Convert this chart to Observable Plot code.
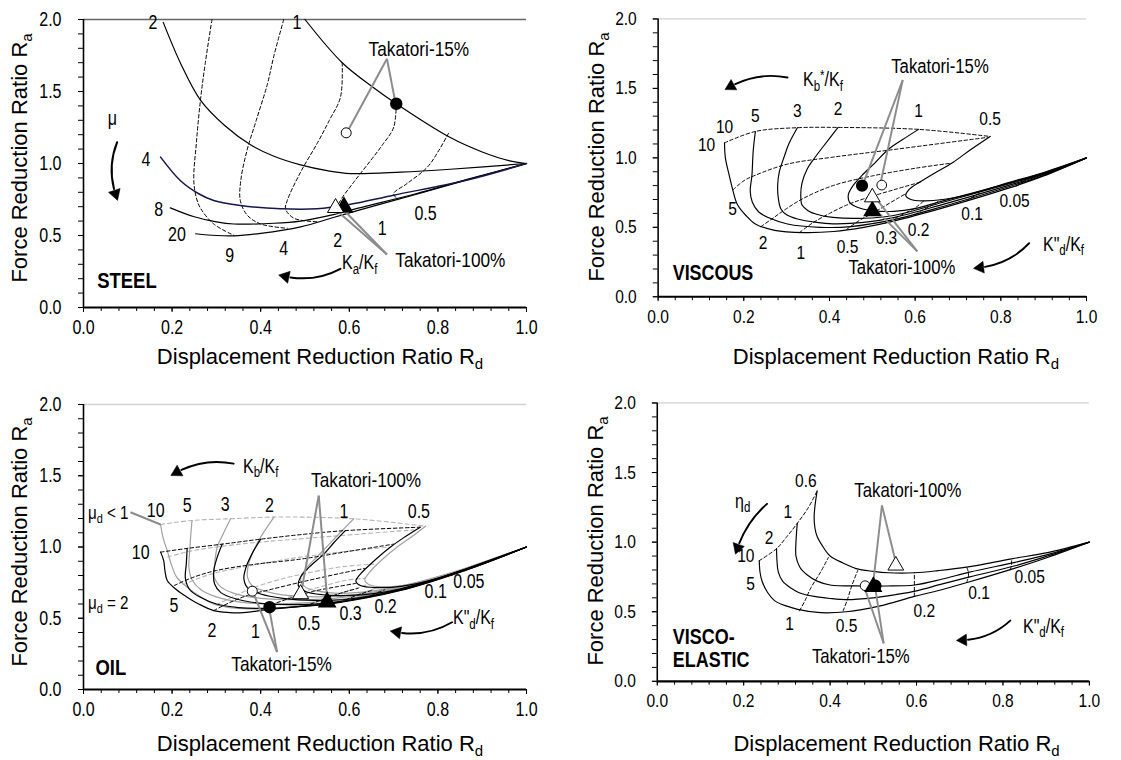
<!DOCTYPE html>
<html><head><meta charset="utf-8">
<script src="https://cdn.jsdelivr.net/npm/d3@7"></script>
<script src="https://cdn.jsdelivr.net/npm/@observablehq/plot@0.6"></script>
<style>
body{margin:0;background:#fff;}
#root{position:relative;width:1121px;height:760px;overflow:hidden;background:#fff;}
.pn{position:absolute;}
.tt{position:absolute;font-family:'Liberation Sans',Arial,sans-serif;font-size:22px;white-space:nowrap;color:#000;line-height:1;}
.tt .sb{font-size:15px;position:relative;top:5px;}
.rl{position:absolute;font-family:'Liberation Sans',Arial,sans-serif;white-space:pre;color:#000;line-height:1;transform-origin:0 50%;}
.rl .sub{font-size:0.72em;position:relative;top:0.32em;}
.rl .sup{font-size:0.72em;position:relative;top:-0.42em;}
</style></head><body><div id="root"></div>
<script>
// ---------- tick values ----------
const xMajor = [0, 0.2, 0.4, 0.6, 0.8, 1.0];
const xMinor = [0,0.04,0.08,0.12,0.16,0.2,0.24,0.28,0.32,0.36,0.4,0.44,0.48,0.52,0.56,0.6,0.64,0.68,0.72,0.76,0.8,0.84,0.88,0.92,0.96,1.0];
const yMajor = [0, 0.5, 1.0, 1.5, 2.0];
const yMinor = [0,0.1,0.2,0.3,0.4,0.5,0.6,0.7,0.8,0.9,1.0,1.1,1.2,1.3,1.4,1.5,1.6,1.7,1.8,1.9,2.0];

// ---------- STEEL ----------
const steelMu1 = [[0.50,2.0],[0.584,1.70],[0.655,1.526],[0.706,1.415],[0.828,1.18],[0.90,1.08],[0.96,1.02],[1,1]];
const steelMu2 = [[0.18,1.98],[0.22,1.69],[0.264,1.44],[0.32,1.26],[0.377,1.13],[0.43,1.05],[0.49,0.99],[0.55,0.95],[0.603,0.93],[0.716,0.94],[0.828,0.96],[1,1]];
const steelMu4 = [[0.174,1.044],[0.219,0.88],[0.26,0.79],[0.294,0.743],[0.354,0.708],[0.445,0.685],[0.527,0.685],[0.60,0.715],[0.70,0.78],[0.866,0.885],[1,1]];
const steelMu8 = [[0.196,0.692],[0.25,0.63],[0.30,0.595],[0.339,0.58],[0.43,0.585],[0.49,0.60],[0.564,0.645],[0.62,0.69],[0.75,0.79],[0.87,0.893],[1,1]];
const steelMu20 = [[0.253,0.512],[0.30,0.50],[0.339,0.498],[0.40,0.515],[0.49,0.56],[0.564,0.625],[0.62,0.675],[0.75,0.785],[0.87,0.89],[1,1]];
const steelKa9 = [[0.29,2.0],[0.275,1.7],[0.264,1.44],[0.255,1.15],[0.249,0.88],[0.255,0.76],[0.264,0.69],[0.294,0.58],[0.34,0.50]];
const steelKa4 = [[0.452,2.0],[0.43,1.75],[0.415,1.55],[0.39,1.3],[0.369,1.09],[0.355,0.88],[0.354,0.743],[0.37,0.64],[0.40,0.58],[0.46,0.55]];
const steelKa2 = [[0.584,1.70],[0.58,1.46],[0.555,1.30],[0.527,1.137],[0.49,0.94],[0.46,0.743],[0.456,0.685],[0.475,0.62],[0.53,0.595]];
const steelKa1 = [[0.706,1.415],[0.70,1.25],[0.675,1.13],[0.648,1.02],[0.61,0.87],[0.58,0.743],[0.575,0.70],[0.60,0.665]];
const steelKa05 = [[0.824,1.21],[0.80,1.08],[0.776,0.974],[0.73,0.86],[0.70,0.79],[0.71,0.75]];
const steelLabels = [["2",0.157,1.975],["1",0.482,1.98],["8",0.17,0.678],["20",0.211,0.507],["9",0.33,0.36],["4",0.452,0.41],["2",0.574,0.465],["1",0.674,0.546],["0.5",0.772,0.65]];
const steelOpen = [[0.593,1.213]], steelFilled = [[0.706,1.415]];
const steelOpenTri = [[0.569,0.692]], steelFilledTri = [[0.588,0.697]];

// ---------- VISCOUS ----------
const visKb10 = [[0.155,1.108],[0.157,1.0],[0.166,0.874],[0.175,0.76],[0.185,0.664],[0.205,0.585],[0.227,0.524],[0.272,0.478],[0.34,0.462],[0.41,0.47],[0.48,0.50],[0.55,0.545],[0.665,0.64],[0.816,0.78],[0.90,0.87],[1,1]];
const visKb5 = [[0.227,1.19],[0.222,1.05],[0.219,0.874],[0.215,0.76],[0.22,0.68],[0.235,0.61],[0.257,0.57],[0.302,0.524],[0.378,0.50],[0.45,0.505],[0.55,0.555],[0.665,0.65],[0.816,0.79],[0.90,0.875],[1,1]];
const visKb3 = [[0.325,1.217],[0.305,1.1],[0.295,1.014],[0.283,0.9],[0.279,0.8],[0.281,0.70],[0.287,0.63],[0.30,0.59],[0.325,0.56],[0.37,0.535],[0.408,0.525],[0.48,0.535],[0.55,0.57],[0.665,0.665],[0.816,0.80],[0.90,0.88],[1,1]];
const visKb2 = [[0.42,1.219],[0.385,1.08],[0.363,0.99],[0.348,0.92],[0.336,0.82],[0.333,0.734],[0.336,0.66],[0.35,0.62],[0.37,0.594],[0.408,0.571],[0.48,0.565],[0.55,0.585],[0.665,0.68],[0.816,0.81],[0.90,0.885],[1,1]];
const visKb1 = [[0.608,1.205],[0.57,1.13],[0.537,1.06],[0.505,0.96],[0.476,0.874],[0.455,0.80],[0.444,0.734],[0.447,0.68],[0.465,0.645],[0.50,0.62],[0.55,0.615],[0.60,0.635],[0.665,0.69],[0.816,0.815],[0.90,0.89],[1,1]];
const visKb05 = [[0.775,1.154],[0.73,1.06],[0.688,0.967],[0.645,0.89],[0.612,0.828],[0.585,0.77],[0.578,0.73],[0.59,0.70],[0.62,0.69],[0.665,0.70],[0.73,0.74],[0.816,0.82],[0.90,0.895],[1,1]];
const visKd10 = [[0.155,1.108],[0.227,1.19],[0.325,1.217],[0.42,1.219],[0.608,1.205],[0.775,1.154]];
const visKd5 = [[0.175,0.77],[0.20,0.835],[0.227,0.875],[0.302,0.955],[0.408,1.005],[0.55,1.06],[0.77,1.148]];
const visKd2 = [[0.24,0.505],[0.27,0.57],[0.30,0.635],[0.34,0.71],[0.408,0.80],[0.50,0.87],[0.60,0.925],[0.68,0.96]];
const visKd1 = [[0.33,0.462],[0.36,0.53],[0.40,0.60],[0.44,0.66],[0.48,0.705],[0.55,0.77],[0.612,0.825]];
const visKd05 = [[0.44,0.485],[0.47,0.55],[0.50,0.60],[0.53,0.655],[0.56,0.71],[0.58,0.745]];
const visKd03 = [[0.53,0.53],[0.55,0.56],[0.575,0.60],[0.60,0.64],[0.62,0.69]];
const visKd02 = [[0.60,0.59],[0.615,0.62],[0.64,0.66],[0.66,0.70]];
const visKd01 = [[0.72,0.69],[0.73,0.71],[0.75,0.745]];
const visKd005 = [[0.835,0.795],[0.845,0.81],[0.855,0.835]];
const visLabels = [["10",0.155,1.224],["5",0.227,1.305],["3",0.325,1.34],["2",0.42,1.352],["1",0.608,1.34],["0.5",0.775,1.28],["10",0.113,1.096],["5",0.174,0.63],["2",0.245,0.385],["1",0.333,0.315],["0.5",0.442,0.36],["0.3",0.533,0.42],["0.2",0.608,0.478],["0.1",0.733,0.594],["0.05",0.832,0.688]];
const visOpen = [[0.522,0.804]], visFilled = [[0.476,0.80]];
const visOpenTri = [[0.50,0.716]], visFilledTri = [[0.50,0.618]];

// ---------- OIL ----------
const oilG10 = [[0.174,1.158],[0.18,1.06],[0.189,0.975],[0.198,0.88],[0.21,0.79],[0.234,0.718],[0.26,0.66],[0.294,0.60],[0.33,0.575],[0.37,0.566],[0.45,0.575],[0.565,0.615],[0.716,0.705],[0.87,0.85],[1,1]];
const oilG5 = [[0.245,1.186],[0.242,1.08],[0.24,0.98],[0.238,0.858],[0.245,0.77],[0.265,0.70],[0.30,0.65],[0.35,0.615],[0.43,0.60],[0.565,0.625],[0.716,0.71],[0.87,0.852],[1,1]];
const oilG3 = [[0.332,1.198],[0.315,1.09],[0.302,1.0],[0.296,0.88],[0.295,0.79],[0.31,0.72],[0.34,0.675],[0.40,0.64],[0.48,0.63],[0.565,0.64],[0.716,0.715],[0.87,0.854],[1,1]];
const oilG2 = [[0.43,1.21],[0.40,1.07],[0.384,0.975],[0.372,0.87],[0.37,0.79],[0.38,0.73],[0.41,0.69],[0.46,0.66],[0.53,0.65],[0.60,0.66],[0.716,0.72],[0.87,0.856],[1,1]];
const oilG1 = [[0.61,1.198],[0.57,1.07],[0.527,0.93],[0.50,0.84],[0.49,0.77],[0.50,0.72],[0.53,0.69],[0.58,0.675],[0.65,0.69],[0.716,0.725],[0.87,0.858],[1,1]];
const oilG05 = [[0.772,1.146],[0.74,1.07],[0.708,1.0],[0.67,0.90],[0.645,0.82],[0.635,0.77],[0.645,0.735],[0.68,0.72],[0.73,0.735],[0.80,0.785],[0.87,0.86],[1,1]];
const oilB10 = [[0.174,0.964],[0.181,0.905],[0.184,0.83],[0.189,0.765],[0.21,0.70],[0.234,0.648],[0.26,0.60],[0.294,0.554],[0.33,0.54],[0.354,0.538],[0.415,0.56],[0.48,0.58],[0.565,0.605],[0.716,0.695],[0.87,0.845],[1,1]];
const oilB5 = [[0.234,0.99],[0.232,0.88],[0.23,0.78],[0.24,0.70],[0.265,0.645],[0.30,0.60],[0.35,0.575],[0.42,0.57],[0.50,0.585],[0.565,0.608],[0.716,0.698],[0.87,0.846],[1,1]];
const oilB3 = [[0.313,1.02],[0.302,0.93],[0.294,0.83],[0.296,0.74],[0.31,0.68],[0.345,0.635],[0.40,0.605],[0.47,0.595],[0.565,0.612],[0.716,0.70],[0.87,0.848],[1,1]];
const oilB2 = [[0.40,1.055],[0.38,0.95],[0.367,0.858],[0.362,0.78],[0.37,0.715],[0.40,0.67],[0.45,0.64],[0.52,0.625],[0.60,0.635],[0.716,0.703],[0.87,0.85],[1,1]];
const oilB1 = [[0.591,1.115],[0.565,1.03],[0.543,0.952],[0.51,0.86],[0.49,0.79],[0.485,0.73],[0.50,0.69],[0.54,0.665],[0.60,0.66],[0.66,0.675],[0.716,0.706],[0.87,0.852],[1,1]];
const oilB05 = [[0.76,1.139],[0.725,1.07],[0.693,1.0],[0.655,0.90],[0.625,0.81],[0.615,0.76],[0.625,0.73],[0.66,0.715],[0.72,0.725],[0.80,0.78],[0.87,0.854],[1,1]];
const oilGd10 = [[0.174,1.158],[0.245,1.186],[0.332,1.198],[0.43,1.21],[0.61,1.198],[0.772,1.146]];
const oilGd5 = [[0.19,0.93],[0.24,0.97],[0.30,1.0],[0.384,1.03],[0.50,1.06],[0.62,1.09],[0.745,1.12]];
const oilGd2 = [[0.225,0.735],[0.26,0.78],[0.30,0.82],[0.37,0.865],[0.47,0.92],[0.58,0.965],[0.69,1.0]];
const oilGd1 = [[0.30,0.595],[0.34,0.655],[0.38,0.71],[0.44,0.77],[0.51,0.82],[0.58,0.86],[0.655,0.88]];
const oilGd05 = [[0.42,0.585],[0.45,0.63],[0.49,0.68],[0.54,0.725],[0.59,0.765],[0.635,0.78]];
const oilGd03 = [[0.54,0.62],[0.56,0.65],[0.59,0.685],[0.64,0.735]];
const oilGd02 = [[0.62,0.665],[0.64,0.69],[0.67,0.72]];
const oilGd01 = [[0.73,0.72],[0.74,0.73],[0.75,0.745]];
const oilGd005 = [[0.86,0.83],[0.865,0.84],[0.875,0.855]];
const oilBd10 = [[0.174,0.964],[0.234,0.99],[0.313,1.02],[0.40,1.055],[0.50,1.09],[0.591,1.115],[0.76,1.139]];
const oilBd5 = [[0.205,0.73],[0.25,0.79],[0.30,0.835],[0.377,0.875],[0.49,0.915],[0.60,0.97],[0.70,1.02]];
const oilBd2 = [[0.294,0.554],[0.33,0.61],[0.37,0.66],[0.42,0.70],[0.50,0.76],[0.58,0.815],[0.635,0.85]];
const oilBd1 = [[0.40,0.56],[0.43,0.60],[0.47,0.645],[0.52,0.69],[0.57,0.72],[0.615,0.745]];
const oilBd05 = [[0.50,0.585],[0.53,0.62],[0.56,0.655],[0.59,0.685],[0.62,0.71]];
const oilBd03 = [[0.58,0.61],[0.60,0.64],[0.625,0.67],[0.65,0.695]];
const oilBd02 = [[0.64,0.645],[0.66,0.675],[0.68,0.70]];
const oilBd01 = [[0.745,0.72],[0.755,0.735],[0.77,0.75]];
const oilBd005 = [[0.83,0.80],[0.84,0.815],[0.85,0.83]];
const oilLabels = [["10",0.163,1.256],["5",0.234,1.29],["3",0.32,1.30],["2",0.42,1.29],["1",0.588,1.244],["0.5",0.757,1.25],["10",0.129,0.957],["5",0.204,0.59],["2",0.29,0.414],["1",0.388,0.402],["0.5",0.509,0.46],["0.3",0.603,0.53],["0.2",0.682,0.578],["0.1",0.795,0.683],["0.05",0.87,0.753]];
const oilOpen = [[0.381,0.69]], oilFilled = [[0.42,0.578]];
const oilOpenTri = [[0.49,0.67]], oilFilledTri = [[0.55,0.613]];

// ---------- VISCO-ELASTIC ----------
const veEta06 = [[0.37,1.368],[0.365,1.26],[0.363,1.18],[0.365,1.1],[0.37,1.04],[0.385,0.96],[0.40,0.90],[0.43,0.85],[0.46,0.81],[0.50,0.79],[0.535,0.78],[0.595,0.78],[0.65,0.795],[0.716,0.82],[0.82,0.88],[0.903,0.925],[1,1]];
const veEta1 = [[0.324,1.135],[0.321,1.0],[0.321,0.90],[0.33,0.82],[0.348,0.762],[0.37,0.72],[0.40,0.692],[0.475,0.685],[0.53,0.685],[0.595,0.692],[0.66,0.735],[0.723,0.785],[0.828,0.855],[0.903,0.91],[1,1]];
const veEta2 = [[0.276,0.953],[0.277,0.87],[0.28,0.786],[0.29,0.72],[0.31,0.669],[0.33,0.635],[0.363,0.61],[0.40,0.595],[0.438,0.587],[0.50,0.60],[0.55,0.622],[0.60,0.65],[0.66,0.70],[0.723,0.75],[0.828,0.83],[0.903,0.9],[1,1]];
const veEta10 = [[0.236,0.867],[0.238,0.78],[0.243,0.715],[0.255,0.64],[0.273,0.576],[0.30,0.54],[0.325,0.517],[0.378,0.493],[0.438,0.50],[0.513,0.54],[0.595,0.61],[0.66,0.66],[0.723,0.715],[0.828,0.813],[0.903,0.89],[1,1]];
const veEdge = [[0.236,0.867],[0.276,0.953],[0.30,1.04],[0.324,1.135],[0.35,1.25],[0.37,1.368]];
const veKd1 = [[0.329,0.506],[0.342,0.58],[0.355,0.669],[0.378,0.785],[0.396,0.89]];
const veKd05 = [[0.43,0.505],[0.44,0.587],[0.45,0.685],[0.464,0.797]];
const veKd02 = [[0.595,0.61],[0.595,0.65],[0.595,0.692],[0.595,0.78]];
const veKd01 = [[0.716,0.71],[0.72,0.75],[0.72,0.785],[0.716,0.82]];
const veKd005 = [[0.817,0.80],[0.82,0.84],[0.82,0.88]];
const veLabels = [["0.6",0.344,1.438],["1",0.302,1.217],["2",0.259,1.03],["10",0.205,0.90],["5",0.216,0.697],["1",0.306,0.413],["0.5",0.438,0.40],["0.2",0.618,0.506],["0.1",0.745,0.634],["0.05",0.862,0.75]];
const veOpen = [[0.481,0.687]], veFilled = [[0.505,0.687]];
const veOpenTri = [[0.552,0.832]], veFilledTri = [[0.50,0.68]];

// ---------- rendering ----------
const W = 560, H = 380, MT = 19;
const FN = "'Liberation Sans',Arial,sans-serif";
const SQ = 0.82; // condensed text factor (Arial Narrow look)
const root = document.getElementById("root");

function rows(list) { return list.flatMap((arr, i) => arr.map(([x, y]) => ({id: i, x, y}))); }

function lineMark(list, stroke, dash, width) {
  return Plot.line(rows(list), {x: "x", y: "y", z: "id", stroke, strokeWidth: width, strokeDasharray: dash, curve: "catmull-rom", fill: "none"});
}

function squeeze(el) {
  const L = el.getComputedTextLength();
  if (L > 0) { el.setAttribute("textLength", L * SQ); el.setAttribute("lengthAdjust", "spacingAndGlyphs"); }
}

function narrow(svg) {
  svg.querySelectorAll("text").forEach(t => {
    const ts = t.querySelectorAll("tspan");
    if (ts.length) ts.forEach(squeeze); else squeeze(t);
  });
}

// label with sub/superscripts, placed through the plot's scales
function rich(p, left, top, x, y, parts, size) {
  const el = document.createElement("div");
  el.className = "rl";
  el.style.fontSize = size + "px";
  el.style.left = (left + p.scale("x").apply(x)) + "px";
  el.style.top = (top + p.scale("y").apply(y)) + "px";
  el.style.transform = `translateY(-50%) scaleX(${SQ})`;
  for (const [s, k] of parts) {
    const sp = document.createElement("span");
    if (k) sp.className = k;
    sp.textContent = s;
    el.appendChild(sp);
  }
  root.appendChild(el);
}

function panel(cfg) {
  const {left, top, mL, mR, mB, topColor, titleOff} = cfg;
  const plotW = W - mL - mR, plotH = H - MT - mB;
  const marks = [
    Plot.ruleY([2], {stroke: topColor, strokeWidth: 1.3}),
    Plot.axisX({ticks: xMinor, tickSize: 4, tickFormat: () => "", label: null}),
    Plot.axisX({ticks: xMajor, tickSize: 5, tickPadding: 8, tickFormat: d => d.toFixed(1), label: null, fontSize: 19.5, fontFamily: FN}),
    Plot.axisY({ticks: yMinor, tickSize: 5, tickFormat: () => "", label: null}),
    Plot.axisY({ticks: yMajor, tickSize: 5, tickPadding: 17, tickFormat: d => d.toFixed(1), label: null, fontSize: 19.5, fontFamily: FN}),
    Plot.ruleX([0], {strokeWidth: 1.6}),
    Plot.ruleY([0], {strokeWidth: 2.2})
  ];
  if (cfg.grayDashed) marks.push(lineMark(cfg.grayDashed, "#b4b4b4", "4,3", 1.1));
  if (cfg.graySolid) marks.push(lineMark(cfg.graySolid, "#a0a0a0", null, 1.2));
  if (cfg.dashed) marks.push(lineMark(cfg.dashed, "#000", "3.5,2.5", 1));
  if (cfg.solid) marks.push(lineMark(cfg.solid, "#000", null, 1.2));
  if (cfg.navy) marks.push(lineMark(cfg.navy, "#16164a", null, 1.5));
  marks.push(Plot.link(cfg.leaders, {x1: d => d[0], y1: d => d[1], x2: d => d[2], y2: d => d[3], stroke: "#8c8c8c", strokeWidth: 2}));
  for (const a of cfg.arrows) {
    const [x1, y1, x2, y2, bend] = a;
    // direction of the arc where it meets its end, for the filled head
    const dxs = (x2 - x1) * plotW, dys = -(y2 - y1) * plotH / 2;
    const endDeg = Math.atan2(dys, dxs) * 180 / Math.PI + bend;
    marks.push(Plot.arrow([a], {x1: d => d[0], y1: d => d[1], x2: d => d[2], y2: d => d[3], bend, stroke: "#000", strokeWidth: 2, headLength: 0, insetEnd: 5}));
    marks.push(Plot.dot([a], {x: d => d[2], y: d => d[3], r: 4.5, symbol: "triangle", fill: "#000", stroke: "#000", strokeWidth: 0.5, rotate: endDeg + 90}));
  }
  marks.push(Plot.dot(cfg.filled, {x: d => d[0], y: d => d[1], r: 5.5, fill: "#000", stroke: "#000"}));
  marks.push(Plot.dot(cfg.open, {x: d => d[0], y: d => d[1], r: 5, fill: "#fff", stroke: "#000", strokeWidth: 1}));
  marks.push(Plot.dot(cfg.filledTri, {x: d => d[0], y: d => d[1], r: 6, symbol: "triangle", fill: "#000", stroke: "#000"}));
  marks.push(Plot.dot(cfg.openTri, {x: d => d[0], y: d => d[1], r: 6, symbol: "triangle", fill: "#fff", stroke: "#000", strokeWidth: 1}));
  marks.push(Plot.text(cfg.labels, {x: d => d[1], y: d => d[2], text: d => d[0], fontSize: 19.5, fontFamily: FN, fill: "#000", fontWeight: d => d[3] || "normal"}));
  marks.push(Plot.text(cfg.notes, {x: d => d[1], y: d => d[2], text: d => d[0], fontSize: 21, fontFamily: FN, fill: "#000"}));
  marks.push(Plot.text(cfg.names, {x: d => d[1], y: d => d[2], text: d => d[0], fontSize: 22.5, fontWeight: "bold", fontFamily: FN, textAnchor: "start", lineHeight: 1.05, fill: "#000"}));
  const p = Plot.plot({
    width: W, height: H, marginLeft: mL, marginRight: mR, marginTop: MT, marginBottom: mB,
    x: {domain: [0, 1]}, y: {domain: [0, 2]},
    style: {background: "transparent", color: "#000", fontFamily: FN, overflow: "visible"},
    marks
  });
  const div = document.createElement("div");
  div.className = "pn"; div.style.left = left + "px"; div.style.top = top + "px";
  div.appendChild(p); root.appendChild(div);
  narrow(p);
  for (const r of cfg.rich) rich(p, left, top, r[0], r[1], r[2], r[3]);
  const xt = document.createElement("div");
  xt.className = "tt";
  xt.innerHTML = 'Displacement Reduction Ratio R<span class="sb">d</span>';
  xt.style.left = (left + mL + 0.535 * plotW) + "px";
  xt.style.top = (top + H - mB + titleOff) + "px";
  xt.style.transform = "translate(-50%,-50%)";
  root.appendChild(xt);
  const yt = document.createElement("div");
  yt.className = "tt";
  yt.innerHTML = 'Force Reduction Ratio R<span class="sb">a</span>';
  yt.style.left = (left + 20) + "px";
  yt.style.top = (top + MT + plotH / 2 - 5) + "px";
  yt.style.transform = "translate(-50%,-50%) rotate(-90deg)";
  root.appendChild(yt);
}

// STEEL
panel({
  left: 0, top: 0, mL: 83, mR: 34, mB: 73, topColor: "#666", titleOff: 50,
  solid: [steelMu1, steelMu2, steelMu8, steelMu20],
  navy: [steelMu4],
  dashed: [steelKa9, steelKa4, steelKa2, steelKa1, steelKa05],
  leaders: [[0.685,1.727,0.598,1.235],[0.685,1.727,0.703,1.44],[0.685,0.368,0.572,0.672],[0.685,0.368,0.588,0.675]],
  arrows: [[0.076,1.148,0.072,0.79,-20],[0.58,0.269,0.456,0.215,20]],
  open: steelOpen, filled: steelFilled, openTri: steelOpenTri, filledTri: steelFilledTri,
  labels: steelLabels.concat([["4",0.141,1.025,"bold"],["μ",0.065,1.31]]),
  notes: [["Takatori-15%",0.757,1.796],["Takatori-100%",0.828,0.326]],
  names: [["STEEL",0.031,0.1875]],
  rich: [[0.584,0.303,[["K"],["a","sub"],["/K"],["f","sub"]],19.5]]
});

// VISCOUS
panel({
  left: 577, top: 0, mL: 83, mR: 36, mB: 75, topColor: "#d2d2d2", titleOff: 52,
  solid: [visKb10, visKb5, visKb3, visKb2, visKb1, visKb05],
  dashed: [visKd10, visKd5, visKd2, visKd1, visKd05, visKd03, visKd02, visKd01, visKd005],
  leaders: [[0.571,1.56,0.48,0.825],[0.571,1.56,0.52,0.83],[0.605,0.327,0.503,0.73],[0.605,0.327,0.503,0.64]],
  arrows: [[0.302,1.578,0.17,1.515,-20],[0.866,0.385,0.752,0.21,20]],
  open: visOpen, filled: visFilled, openTri: visOpenTri, filledTri: visFilledTri,
  labels: visLabels,
  notes: [["Takatori-15%",0.658,1.655],["Takatori-100%",0.569,0.21]],
  names: [["VISCOUS",0.034,0.175]],
  rich: [[0.325,1.573,[["K"],["b","sub"],["*","sup"],["/K"],["f","sub"]],19.5],[0.869,0.42,[["K\""],["d","sub"],["/K"],["f","sub"]],19.5]]
});

// OIL
panel({
  left: 0, top: 385, mL: 83, mR: 34, mB: 76, topColor: "#d2d2d2", titleOff: 55,
  graySolid: [oilG10, oilG5, oilG3, oilG2, oilG1, oilG05],
  grayDashed: [oilGd10, oilGd5, oilGd2, oilGd1, oilGd05, oilGd03, oilGd02, oilGd01, oilGd005],
  solid: [oilB10, oilB5, oilB3, oilB2, oilB1, oilB05],
  dashed: [oilBd10, oilBd5, oilBd2, oilBd1, oilBd05, oilBd03, oilBd02, oilBd01, oilBd005],
  leaders: [[0.437,0.262,0.385,0.665],[0.437,0.262,0.42,0.555],[0.531,1.361,0.492,0.69],[0.531,1.361,0.55,0.635],[0.106,1.244,0.174,1.158]],
  arrows: [[0.339,1.585,0.211,1.525,-20],[0.832,0.472,0.708,0.402,20]],
  open: oilOpen, filled: oilFilled, openTri: oilOpenTri, filledTri: oilFilledTri,
  labels: oilLabels,
  notes: [["Takatori-15%",0.447,0.18],["Takatori-100%",0.638,1.47]],
  names: [["OIL",0.027,0.155]],
  rich: [[0.362,1.56,[["K"],["b","sub"],["/K"],["f","sub"]],19.5],[0.011,1.235,[["μ"],["d","sub"],[" < 1"]],18.5],[0.011,0.603,[["μ"],["d","sub"],[" = 2"]],18.5],[0.836,0.496,[["K\""],["d","sub"],["/K"],["f","sub"]],19.5]]
});

// VISCO-ELASTIC
panel({
  left: 576, top: 384, mL: 83, mR: 33, mB: 75, topColor: "#d2d2d2", titleOff: 55,
  solid: [veEta06, veEta1, veEta2, veEta10],
  dashed: [veEdge, veKd1, veKd05, veKd02, veKd01, veKd005],
  leaders: [[0.52,1.264,0.55,0.88],[0.52,1.264,0.50,0.715],[0.524,0.273,0.481,0.66],[0.524,0.273,0.505,0.66]],
  arrows: [[0.254,1.275,0.186,0.96,-15],[0.817,0.436,0.708,0.296,20]],
  open: veOpen, filled: veFilled, openTri: veOpenTri, filledTri: veFilledTri,
  labels: veLabels,
  notes: [["Takatori-100%",0.58,1.368],["Takatori-15%",0.471,0.18]],
  names: [["VISCO-\nELASTIC",0.036,0.2375]],
  rich: [[0.171,1.31,[["η"],["d","sub"]],19.5],[0.82,0.436,[["K\""],["d","sub"],["/K"],["f","sub"]],19.5]]
});
</script></body></html>
